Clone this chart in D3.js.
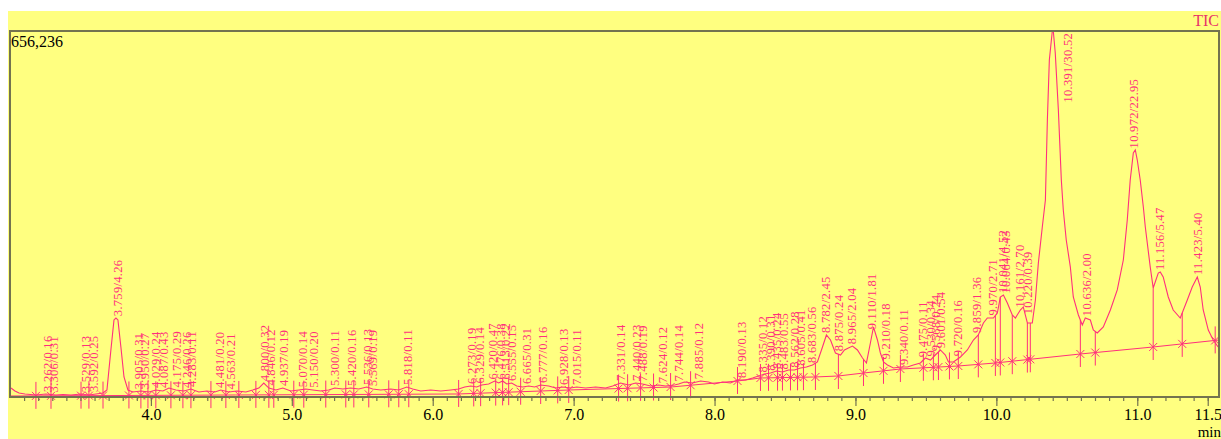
<!DOCTYPE html>
<html>
<head>
<meta charset="utf-8">
<script src="https://cdn.jsdelivr.net/npm/d3@7"></script>
<style>
body { margin: 0; background: #fff; }
svg { display: block; }
</style>
</head>
<body>
<svg></svg>
<script>
var width = 1221;
var height = 439;

// TIC trace, minutes / counts
var traceTime = [3.007,3.035,3.064,3.106,3.184,3.255,3.326,3.376,3.433,3.504,3.560,3.610,3.660,3.688,3.716,3.738,3.752,3.766,3.787,3.809,3.837,3.872,3.929,3.986,4.035,4.085,4.128,4.177,4.234,4.284,4.340,4.397,4.454,4.496,4.553,4.610,4.674,4.723,4.766,4.801,4.837,4.887,4.936,4.993,5.050,5.099,5.149,5.206,5.262,5.305,5.362,5.418,5.475,5.532,5.574,5.631,5.702,5.759,5.816,5.858,5.915,5.986,6.057,6.128,6.184,6.227,6.270,6.312,6.348,6.397,6.440,6.468,6.496,6.525,6.560,6.596,6.638,6.681,6.723,6.766,6.823,6.872,6.922,6.979,7.021,7.085,7.156,7.227,7.277,7.333,7.390,7.440,7.489,7.546,7.603,7.652,7.716,7.745,7.787,7.844,7.901,7.957,7.999,8.057,8.113,8.163,8.220,8.270,8.312,8.355,8.397,8.440,8.482,8.525,8.567,8.610,8.652,8.695,8.730,8.766,8.794,8.823,8.858,8.894,8.922,8.950,8.979,9.014,9.050,9.078,9.106,9.128,9.156,9.177,9.199,9.227,9.270,9.319,9.369,9.411,9.461,9.496,9.532,9.567,9.603,9.638,9.660,9.695,9.745,9.794,9.837,9.872,9.908,9.936,9.979,10.007,10.028,10.050,10.078,10.113,10.135,10.170,10.191,10.220,10.255,10.277,10.298,10.326,10.348,10.362,10.376,10.397,10.404,10.418,10.440,10.461,10.475,10.496,10.525,10.546,10.582,10.610,10.631,10.667,10.688,10.716,10.759,10.809,10.858,10.901,10.929,10.950,10.972,10.986,11.000,11.021,11.043,11.057,11.092,11.113,11.149,11.163,11.184,11.220,11.255,11.305,11.355,11.390,11.426,11.447,11.468,11.504,11.539,11.574];
var traceCount = [16100,10800,7200,5400,3600,5400,3600,4500,3600,5400,3600,5400,7200,12600,84300,138100,141600,138100,89700,35900,12600,9000,10800,9000,12600,10800,16100,12600,10800,14300,9000,10800,9000,12600,9000,10800,9000,12600,16100,25100,16100,12600,16100,10800,12600,14300,12600,10800,12600,16100,14300,16100,14300,17900,14300,12600,14300,12600,17900,14300,10800,12600,10800,12600,14300,17900,19700,17900,21500,23300,28700,25100,28700,23300,25100,19700,17900,19700,17900,21500,19700,16100,17900,16100,17900,16100,17900,16100,19700,25100,21500,25100,23300,19700,21500,19700,21500,23300,26900,25100,28700,26900,23300,26900,25100,30500,30500,34100,37700,41200,43000,46600,44800,48400,48400,52000,53800,57400,62800,89700,111200,102200,78900,75300,84300,87900,91400,84300,69900,61000,96800,125500,102200,78900,62800,57400,52000,53800,53800,57400,61000,69900,66300,75300,84300,75300,62800,62800,71700,84300,102200,111200,132700,141600,141600,150600,179300,182900,168500,147000,141600,156000,161400,132700,132700,173900,240300,304800,353200,496700,604200,656200,656200,616800,514600,389100,335300,281500,233100,179300,147000,129100,141600,138100,120100,114800,125500,156000,191900,245600,317400,389100,437500,442900,424900,389100,340700,304800,233100,195400,222300,224100,215200,179300,156000,141600,173900,197200,215200,197200,156000,120100,102200,89700];

// integration baseline
var baseTime = [3.0,4.6,6.18,6.97,7.69,8.163,8.326,8.716,8.879,9.057,9.319,9.730,9.993,10.596,11.113,11.58];
var baseCount = [1800,3600,5400,12600,17900,28700,34100,35900,37700,43000,50200,55600,61000,77100,89700,102200];

// peak table: retention time / area %
var peakRT = [3.262,3.306,3.529,3.592,3.759,3.905,3.950,4.029,4.087,4.175,4.246,4.283,4.481,4.563,4.800,4.846,4.937,5.070,5.150,5.300,5.420,5.536,5.569,5.818,6.273,6.329,6.420,6.476,6.513,6.555,6.665,6.777,6.928,7.015,7.331,7.440,7.488,7.624,7.744,7.885,8.190,8.335,8.390,8.435,8.483,8.562,8.605,8.683,8.782,8.875,8.965,9.110,9.210,9.340,9.475,9.530,9.568,9.601,9.720,9.859,9.970,10.041,10.064,10.161,10.220,10.391,10.636,10.972,11.156,11.423];
var peakArea = [0.16,0.31,0.13,0.25,4.26,0.31,0.27,0.24,0.43,0.29,0.26,0.11,0.20,0.21,0.32,0.12,0.19,0.14,0.20,0.11,0.16,0.13,0.19,0.11,0.19,0.14,0.47,0.38,0.22,0.15,0.31,0.16,0.13,0.11,0.14,0.23,0.19,0.12,0.14,0.12,0.13,0.12,0.31,0.24,0.55,0.28,0.41,0.56,2.45,0.24,2.04,1.81,0.18,0.11,0.11,0.34,0.24,0.54,0.16,1.36,2.71,4.52,0.43,2.70,0.39,30.52,2.00,22.95,5.47,5.40];

// peak start / end marks
var markTime = [3.184,3.291,3.504,3.560,3.660,3.844,3.929,3.979,4.035,4.142,4.227,4.284,4.426,4.532,4.624,4.745,4.837,4.872,5.014,5.085,5.241,5.383,5.440,5.546,5.688,5.759,5.830,6.184,6.291,6.340,6.447,6.496,6.539,6.624,6.766,6.887,6.965,7.319,7.383,7.475,7.567,7.688,7.830,8.163,8.326,8.383,8.447,8.482,8.539,8.589,8.631,8.716,8.879,9.057,9.199,9.319,9.482,9.553,9.589,9.667,9.730,9.872,9.993,10.028,10.113,10.220,10.241,10.596,10.702,11.113,11.319,11.553];

var tickValues = [4,5,6,7,8,9,10,11,11.5];
var tickLabels = ["4.0","5.0","6.0","7.0","8.0","9.0","10.0","11.0","11.5"];
var fullScale = 656236;

var pink = "#ff2f7d";
var frameColor = "#73734f";

var svg = d3.select("svg")
  .attr("width", width)
  .attr("height", height);

svg.append("rect")
  .attr("x", 8).attr("y", 11)
  .attr("width", width - 8).attr("height", height - 11)
  .attr("fill", "#ffff80");

var plot = { left: 10, top: 31, right: 1219, bottom: 397 };

var x = d3.scaleLinear()
  .domain([3.0, 11.58])
  .range([plot.left, plot.right]);

var y = d3.scaleLinear()
  .domain([0, fullScale])
  .range([plot.bottom, plot.top]);

function interp(ts, vs, t) {
  var i = d3.bisectLeft(ts, t);
  if (i <= 0) return vs[0];
  if (i >= ts.length) return vs[vs.length - 1];
  var f = (t - ts[i-1]) / (ts[i] - ts[i-1]);
  return vs[i-1] + f * (vs[i] - vs[i-1]);
}

svg.append("clipPath").attr("id", "clip")
  .append("rect")
  .attr("x", plot.left).attr("y", plot.top)
  .attr("width", plot.right - plot.left).attr("height", plot.bottom - plot.top);

var g = svg.append("g").attr("clip-path", "url(#clip)");

// baseline
var line = d3.line()
  .x(function(d) { return x(d[0]); })
  .y(function(d) { return y(d[1]); });

g.append("path")
  .datum(d3.zip(baseTime, baseCount))
  .attr("d", line)
  .attr("fill", "none")
  .attr("stroke", pink)
  .attr("stroke-width", 1);

// trace
g.append("path")
  .datum(d3.zip(traceTime, traceCount))
  .attr("d", line)
  .attr("fill", "none")
  .attr("stroke", pink)
  .attr("stroke-width", 1.1);

// marks
var marks = svg.append("g");
markTime.forEach(function(t) {
  var bx = x(t);
  var by = y(interp(baseTime, baseCount, t));
  var sy = y(interp(traceTime, traceCount, t));
  marks.append("line")
    .attr("x1", bx).attr("x2", bx)
    .attr("y1", Math.min(sy, by - 14)).attr("y2", by + 13)
    .attr("stroke", pink).attr("stroke-width", 1);
  marks.append("path")
    .attr("d", "M" + (bx-4) + "," + (by-4) + "L" + (bx+4) + "," + (by+4) +
               "M" + (bx+4) + "," + (by-4) + "L" + (bx-4) + "," + (by+4))
    .attr("stroke", pink).attr("stroke-width", 1);
});

// frame
svg.append("rect")
  .attr("x", plot.left).attr("y", plot.top)
  .attr("width", plot.right - plot.left).attr("height", plot.bottom - plot.top)
  .attr("fill", "none")
  .attr("stroke", frameColor)
  .attr("stroke-width", 2);

// axis
var minor = d3.range(31, 116).map(function(i) { return i / 10; });

var minorAxis = d3.axisBottom(x)
  .tickValues(minor)
  .tickSize(4)
  .tickFormat("");

var majorAxis = d3.axisBottom(x)
  .tickValues(tickValues)
  .tickSize(9)
  .tickPadding(3)
  .tickFormat(function(d, i) { return tickLabels[i]; });

[minorAxis, majorAxis].forEach(function(ax) {
  var a = svg.append("g")
    .attr("transform", "translate(0," + plot.bottom + ")")
    .call(ax);
  a.select(".domain").remove();
  a.selectAll("line").attr("stroke", frameColor).attr("stroke-width", 1.2);
  a.selectAll("text")
    .attr("font-family", "Liberation Serif, serif")
    .attr("font-size", 16)
    .attr("fill", "#000");
});

// peak labels
var fmtRT = d3.format(".3f");
var fmtArea = d3.format(".2f");
var labels = svg.append("g");
peakRT.forEach(function(rt, i) {
  var top = 0;
  for (var k = -4; k <= 4; k++) {
    top = Math.max(top, interp(traceTime, traceCount, rt + k * 0.003));
  }
  var px = x(rt) + 5;
  var py = y(top) - 2;
  var t = labels.append("text")
    .attr("font-family", "Liberation Serif, serif")
    .attr("font-size", 12.5)
    .attr("letter-spacing", 0.3)
    .attr("fill", pink)
    .text(fmtRT(rt) + "/" + fmtArea(peakArea[i]));
  var len = t.node().getComputedTextLength();
  if (py - len < plot.top + 2) {
    py = plot.top + 2 + len;
    px += 16;
  }
  t.attr("transform", "translate(" + px + "," + py + ") rotate(-90)");
});

// texts
svg.append("text")
  .attr("x", 11).attr("y", 47)
  .attr("font-family", "Liberation Serif, serif")
  .attr("font-size", 16)
  .attr("fill", "#000")
  .text("656,236");

svg.append("text")
  .attr("x", 1219).attr("y", 26)
  .attr("text-anchor", "end")
  .attr("font-family", "Liberation Serif, serif")
  .attr("font-size", 16)
  .attr("fill", "#e8336a")
  .text("TIC");

svg.append("text")
  .attr("x", 1221).attr("y", 437)
  .attr("text-anchor", "end")
  .attr("font-family", "Liberation Serif, serif")
  .attr("font-size", 15)
  .attr("fill", "#000")
  .text("min");
</script>
</body>
</html>
